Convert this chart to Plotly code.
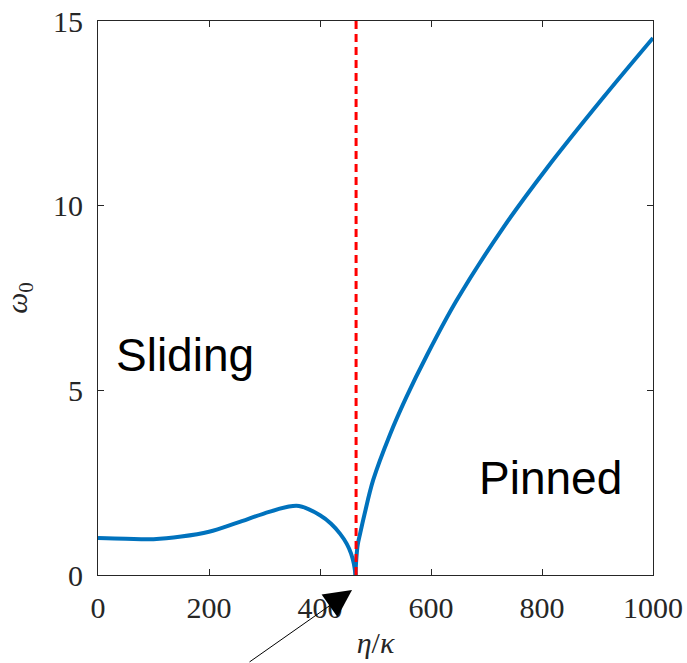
import plotly.graph_objects as go

# Data (two branches meeting at the cusp)
sliding_eta = [0, 50, 100, 150, 200, 250, 300, 340, 362, 400, 420, 436, 448, 456, 461, 464]
sliding_omega = [1.00, 0.98, 0.97, 1.04, 1.17, 1.41, 1.67, 1.84, 1.87, 1.62, 1.39, 1.12, 0.85, 0.58, 0.30, 0.0]
pinned_eta = [464, 465, 468, 472, 480, 496, 526, 556, 592, 646, 730, 808, 910, 1000]
pinned_omega = [0.0, 0.35, 0.82, 1.10, 1.63, 2.58, 3.80, 4.83, 5.93, 7.43, 9.40, 11.00, 12.92, 14.54]
critical_eta = 465
critical_span = [0, 15]
x_ticks = [0, 200, 400, 600, 800, 1000]
y_ticks = [0, 5, 10, 15]

fig = go.Figure()
for xs, ys in ((sliding_eta, sliding_omega), (pinned_eta, pinned_omega)):
    fig.add_trace(go.Scatter(x=xs, y=ys, mode="lines",
                             line=dict(color="#0072BD", width=4, shape="spline", smoothing=1.0),
                             showlegend=False))
fig.add_trace(go.Scatter(x=[critical_eta, critical_eta], y=critical_span, mode="lines",
                         line=dict(color="#FF0000", width=3, dash="8px,5px"), showlegend=False))

tickfont = dict(family="Liberation Serif", size=30, color="#262626")
axis_common = dict(showline=True, linecolor="#262626", linewidth=1, mirror="ticks",
                   ticks="inside", ticklen=6, tickcolor="#262626", showgrid=False,
                   zeroline=False, tickfont=tickfont, automargin=False)

fig.update_xaxes(range=[0, 1000], tickvals=x_ticks, ticklabelstandoff=6,
                 title=dict(text="<i>η</i>/<i>κ</i>", font=dict(family="Liberation Serif", size=30, color="#262626"),
                            standoff=8),
                 **axis_common)
fig.update_yaxes(range=[0, 15], tickvals=y_ticks, ticklabelstandoff=8,
                 title=dict(text="<i>ω</i><sub>0</sub>", font=dict(family="Liberation Serif", size=30, color="#262626"),
                            standoff=22),
                 **axis_common)

fig.add_annotation(x=157, y=5.95, xref="x", yref="y", text="Sliding", showarrow=False,
                   font=dict(family="Liberation Sans", size=46, color="black"))
fig.add_annotation(x=816, y=2.62, xref="x", yref="y", text="Pinned", showarrow=False,
                   font=dict(family="Liberation Sans", size=46, color="black"))
fig.add_annotation(x=457.7, y=-0.027, xref="x", yref="paper", text="", showarrow=True,
                   arrowhead=2, arrowsize=5.5, arrowwidth=1, arrowcolor="black",
                   ax=-104, ay=90)

fig.update_layout(width=687, height=663, margin=dict(l=98, r=34, t=21, b=88),
                  plot_bgcolor="white", paper_bgcolor="white")
fig.write_html("out.html")
